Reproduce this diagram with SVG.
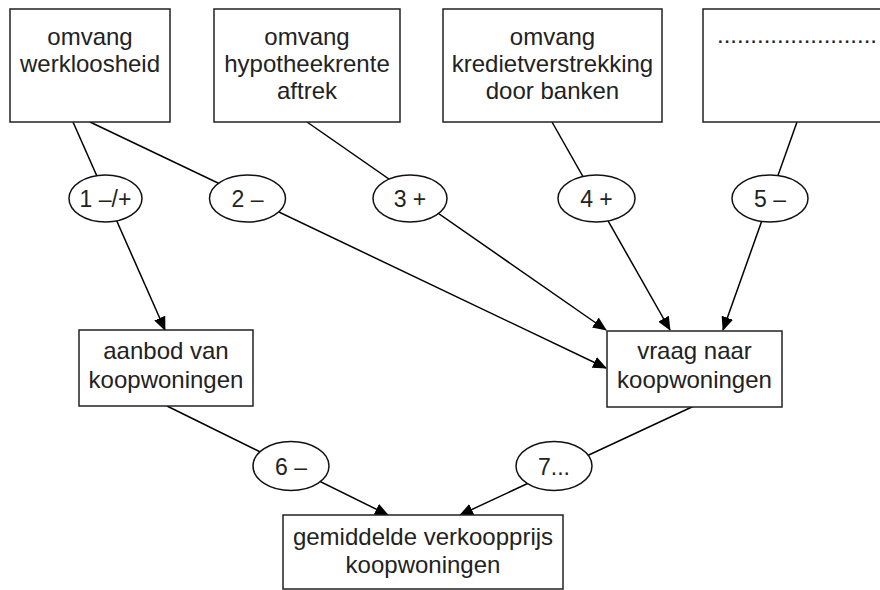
<svg xmlns="http://www.w3.org/2000/svg" width="880" height="590" viewBox="0 0 880 590">
<style>
.box{fill:#fff;stroke:#222;stroke-width:1.5}
.ell{fill:#fff;stroke:#111;stroke-width:1.5}
.t{font-family:"Liberation Sans",Arial,sans-serif;font-size:24px;fill:#222;text-anchor:middle}
.e{font-family:"Liberation Sans",Arial,sans-serif;font-size:23px;fill:#222;text-anchor:middle}
.c{stroke:#000;stroke-width:1.5;fill:none}
</style>
<defs>
<marker id="arr" markerUnits="userSpaceOnUse" markerWidth="14" markerHeight="12" refX="13" refY="6" orient="auto">
<path d="M0,0 L14,6 L0,12 z" fill="#000"/>
</marker>
</defs>
<rect width="880" height="590" fill="#fff"/>
<g id="connectors">
<line class="c" x1="73" y1="122" x2="165" y2="330" marker-end="url(#arr)"/>
<line class="c" x1="90" y1="122" x2="606" y2="368" marker-end="url(#arr)"/>
<line class="c" x1="307" y1="122" x2="606" y2="330" marker-end="url(#arr)"/>
<line class="c" x1="552" y1="122" x2="670" y2="330" marker-end="url(#arr)"/>
<line class="c" x1="797" y1="122" x2="723" y2="330" marker-end="url(#arr)"/>
<line class="c" x1="167" y1="406" x2="388" y2="515" marker-end="url(#arr)"/>
<line class="c" x1="694" y1="406" x2="460" y2="515" marker-end="url(#arr)"/>
</g>
<g id="werkloosheid">
<rect class="box" x="10" y="9" width="160" height="113"/>
<text class="t" x="90" y="45">omvang</text>
<text class="t" x="90" y="72">werkloosheid</text>
</g>
<g id="hypotheekrente">
<rect class="box" x="214" y="9" width="186" height="113"/>
<text class="t" x="307" y="45">omvang</text>
<text class="t" x="307" y="72">hypotheekrente</text>
<text class="t" x="307" y="99">aftrek</text>
</g>
<g id="kredietverstrekking">
<rect class="box" x="443" y="9" width="219" height="113"/>
<text class="t" x="552.5" y="45">omvang</text>
<text class="t" x="552.5" y="72">kredietverstrekking</text>
<text class="t" x="552.5" y="99">door banken</text>
</g>
<g id="onbekend">
<rect class="box" x="703" y="9" width="200" height="113"/>
<text class="t" x="717" y="43" style="text-anchor:start">........................</text>
</g>
<g id="e1"><ellipse class="ell" cx="105.5" cy="198.5" rx="36.5" ry="23.5"/><text class="e" x="105.5" y="206.5">1 –/+</text></g>
<g id="e2"><ellipse class="ell" cx="247.5" cy="198.5" rx="38" ry="23.5"/><text class="e" x="247.5" y="206.5">2 –</text></g>
<g id="e3"><ellipse class="ell" cx="410" cy="198.5" rx="37" ry="23.5"/><text class="e" x="410" y="206.5">3 +</text></g>
<g id="e4"><ellipse class="ell" cx="596.5" cy="198.5" rx="38.5" ry="23.5"/><text class="e" x="596.5" y="206.5">4 +</text></g>
<g id="e5"><ellipse class="ell" cx="770" cy="198.5" rx="38" ry="23.5"/><text class="e" x="770" y="206.5">5 –</text></g>
<g id="aanbod">
<rect class="box" x="79" y="330" width="174" height="76"/>
<text class="t" x="166" y="359">aanbod van</text>
<text class="t" x="166" y="388">koopwoningen</text>
</g>
<g id="vraag">
<rect class="box" x="607" y="331" width="175" height="76"/>
<text class="t" x="694.5" y="359">vraag naar</text>
<text class="t" x="694.5" y="388">koopwoningen</text>
</g>
<g id="e6"><ellipse class="ell" cx="291" cy="466" rx="38" ry="24.5"/><text class="e" x="291" y="474.5">6 –</text></g>
<g id="e7"><ellipse class="ell" cx="554" cy="466" rx="38" ry="24.5"/><text class="e" x="554" y="474.5">7...</text></g>
<g id="verkoopprijs">
<rect class="box" x="283" y="515" width="280" height="74"/>
<text class="t" x="423" y="545">gemiddelde verkoopprijs</text>
<text class="t" x="423" y="573">koopwoningen</text>
</g>
</svg>
